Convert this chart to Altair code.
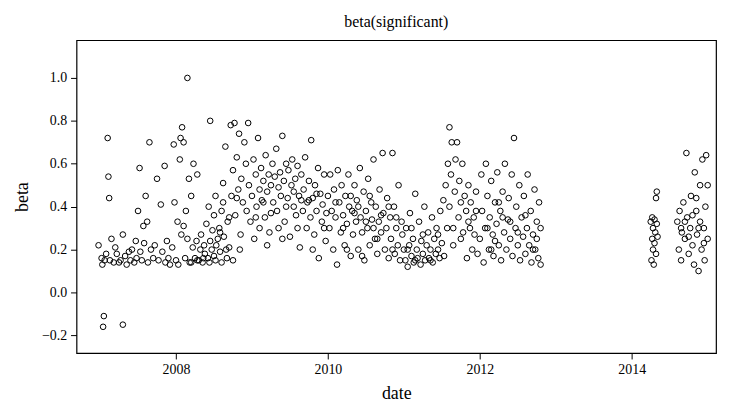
import altair as alt
import pandas as pd

# (decimal year, beta), grouped by period
p2007a = [(2006.98, 0.22), (2007.02, 0.16), (2007.03, 0.13), (2007.04, -0.16), (2007.05, -0.11),
          (2007.06, 0.15), (2007.08, 0.18), (2007.1, 0.72), (2007.11, 0.54), (2007.12, 0.44),
          (2007.13, 0.15), (2007.15, 0.25), (2007.18, 0.14), (2007.2, 0.21), (2007.22, 0.18),
          (2007.25, 0.14), (2007.27, 0.15), (2007.3, -0.15), (2007.3, 0.27), (2007.33, 0.17),
          (2007.35, 0.13), (2007.38, 0.19), (2007.4, 0.15), (2007.42, 0.2), (2007.45, 0.14),
          (2007.47, 0.24), (2007.48, 0.16), (2007.5, 0.38), (2007.52, 0.58), (2007.53, 0.19),
          (2007.55, 0.15), (2007.57, 0.31), (2007.58, 0.23), (2007.6, 0.45), (2007.62, 0.33),
          (2007.63, 0.14), (2007.65, 0.7), (2007.67, 0.2), (2007.7, 0.16), (2007.72, 0.22),
          (2007.75, 0.53), (2007.77, 0.15), (2007.8, 0.41), (2007.82, 0.19), (2007.85, 0.59),
          (2007.86, 0.14), (2007.88, 0.24), (2007.9, 0.16), (2007.92, 0.13), (2007.95, 0.21)]
p2008a = [(2007.97, 0.69), (2007.98, 0.42), (2008.0, 0.15), (2008.02, 0.33), (2008.03, 0.13),
          (2008.05, 0.62), (2008.06, 0.72), (2008.07, 0.27), (2008.08, 0.77), (2008.1, 0.7),
          (2008.1, 0.31), (2008.12, 0.16), (2008.13, 0.38), (2008.15, 1.0), (2008.15, 0.25),
          (2008.17, 0.53), (2008.18, 0.14), (2008.2, 0.45), (2008.22, 0.21), (2008.23, 0.6),
          (2008.25, 0.16), (2008.27, 0.24), (2008.28, 0.55), (2008.3, 0.15), (2008.32, 0.2),
          (2008.33, 0.27), (2008.35, 0.14), (2008.37, 0.22), (2008.38, 0.18), (2008.4, 0.32),
          (2008.42, 0.16), (2008.43, 0.4), (2008.45, 0.8), (2008.45, 0.24), (2008.47, 0.2),
          (2008.48, 0.29), (2008.5, 0.36), (2008.5, 0.17), (2008.52, 0.45), (2008.53, 0.22),
          (2008.55, 0.25), (2008.57, 0.3), (2008.58, 0.19), (2008.6, 0.38), (2008.62, 0.42),
          (2008.63, 0.26), (2008.65, 0.68), (2008.67, 0.16), (2008.68, 0.33), (2008.7, 0.21),
          (2008.72, 0.78), (2008.73, 0.45), (2008.75, 0.15), (2008.75, 0.57), (2008.77, 0.79),
          (2008.78, 0.36), (2008.8, 0.63), (2008.82, 0.48), (2008.83, 0.74), (2008.85, 0.27),
          (2008.86, 0.53), (2008.88, 0.42), (2008.9, 0.7), (2008.92, 0.6), (2008.93, 0.38),
          (2008.95, 0.79), (2008.96, 0.5), (2008.98, 0.33), (2008.2, 0.14), (2008.28, 0.15),
          (2008.36, 0.16), (2008.44, 0.14), (2008.52, 0.15), (2008.6, 0.14), (2008.66, 0.2),
          (2008.58, 0.28), (2008.7, 0.35), (2008.62, 0.51), (2008.8, 0.44), (2008.84, 0.2)]
p2009 = [(2009.0, 0.45), (2009.02, 0.62), (2009.03, 0.25), (2009.05, 0.55), (2009.06, 0.4),
         (2009.08, 0.72), (2009.1, 0.48), (2009.1, 0.3), (2009.12, 0.58), (2009.13, 0.43),
         (2009.15, 0.52), (2009.17, 0.35), (2009.18, 0.64), (2009.2, 0.47), (2009.22, 0.55),
         (2009.23, 0.28), (2009.25, 0.5), (2009.27, 0.6), (2009.28, 0.42), (2009.3, 0.54),
         (2009.32, 0.67), (2009.33, 0.38), (2009.35, 0.49), (2009.37, 0.56), (2009.38, 0.45),
         (2009.4, 0.73), (2009.42, 0.52), (2009.43, 0.33), (2009.45, 0.6), (2009.47, 0.44),
         (2009.48, 0.57), (2009.5, 0.26), (2009.52, 0.5), (2009.53, 0.62), (2009.55, 0.4),
         (2009.57, 0.53), (2009.58, 0.36), (2009.6, 0.59), (2009.62, 0.45), (2009.63, 0.21),
         (2009.65, 0.55), (2009.67, 0.38), (2009.68, 0.48), (2009.7, 0.63), (2009.72, 0.3),
         (2009.73, 0.42), (2009.75, 0.52), (2009.77, 0.35), (2009.78, 0.71), (2009.8, 0.44),
         (2009.82, 0.27), (2009.83, 0.5), (2009.85, 0.38), (2009.87, 0.58), (2009.88, 0.16),
         (2009.9, 0.46), (2009.92, 0.33), (2009.93, 0.41), (2009.95, 0.55), (2009.97, 0.24),
         (2009.98, 0.37), (2009.05, 0.35), (2009.15, 0.42), (2009.25, 0.37), (2009.35, 0.3),
         (2009.45, 0.4), (2009.55, 0.47), (2009.65, 0.43), (2009.75, 0.43), (2009.85, 0.46),
         (2009.2, 0.22), (2009.4, 0.25), (2009.6, 0.3), (2009.8, 0.2), (2009.95, 0.3)]
p2010 = [(2010.0, 0.45), (2010.02, 0.3), (2010.03, 0.55), (2010.05, 0.38), (2010.07, 0.2),
         (2010.08, 0.48), (2010.1, 0.35), (2010.12, 0.13), (2010.13, 0.57), (2010.15, 0.42),
         (2010.17, 0.28), (2010.18, 0.5), (2010.2, 0.36), (2010.22, 0.22), (2010.23, 0.45),
         (2010.25, 0.32), (2010.27, 0.55), (2010.28, 0.4), (2010.3, 0.17), (2010.32, 0.38),
         (2010.33, 0.27), (2010.35, 0.5), (2010.37, 0.33), (2010.38, 0.43), (2010.4, 0.2),
         (2010.42, 0.58), (2010.43, 0.35), (2010.45, 0.28), (2010.47, 0.47), (2010.48, 0.15),
         (2010.5, 0.38), (2010.52, 0.3), (2010.53, 0.53), (2010.55, 0.22), (2010.57, 0.42),
         (2010.58, 0.34), (2010.6, 0.62), (2010.62, 0.25), (2010.63, 0.4), (2010.65, 0.18),
         (2010.67, 0.33), (2010.68, 0.48), (2010.7, 0.28), (2010.72, 0.65), (2010.73, 0.37),
         (2010.75, 0.2), (2010.77, 0.3), (2010.78, 0.44), (2010.8, 0.16), (2010.82, 0.35),
         (2010.83, 0.25), (2010.85, 0.65), (2010.87, 0.4), (2010.88, 0.18), (2010.9, 0.3),
         (2010.92, 0.22), (2010.93, 0.5), (2010.95, 0.15), (2010.97, 0.33), (2010.98, 0.27),
         (2010.1, 0.42), (2010.2, 0.3), (2010.3, 0.45), (2010.4, 0.4), (2010.5, 0.33),
         (2010.6, 0.3), (2010.7, 0.36), (2010.8, 0.4), (2010.9, 0.35), (2010.25, 0.2),
         (2010.45, 0.17), (2010.65, 0.25), (2010.85, 0.2), (2010.55, 0.45), (2010.35, 0.37)]
p2011 = [(2011.0, 0.2), (2011.02, 0.15), (2011.03, 0.3), (2011.05, 0.12), (2011.07, 0.22),
         (2011.08, 0.37), (2011.1, 0.17), (2011.12, 0.25), (2011.13, 0.14), (2011.15, 0.46),
         (2011.17, 0.2), (2011.18, 0.16), (2011.2, 0.33), (2011.22, 0.13), (2011.23, 0.24),
         (2011.25, 0.18), (2011.27, 0.4), (2011.28, 0.15), (2011.3, 0.22), (2011.32, 0.28),
         (2011.33, 0.16), (2011.35, 0.2), (2011.37, 0.35), (2011.38, 0.14), (2011.4, 0.25),
         (2011.42, 0.18), (2011.43, 0.3), (2011.45, 0.2), (2011.47, 0.16), (2011.48, 0.38),
         (2011.5, 0.23), (2011.52, 0.43), (2011.53, 0.17), (2011.55, 0.5), (2011.57, 0.3),
         (2011.58, 0.6), (2011.6, 0.77), (2011.6, 0.4), (2011.62, 0.55), (2011.63, 0.7),
         (2011.65, 0.22), (2011.67, 0.47), (2011.68, 0.62), (2011.7, 0.7), (2011.72, 0.35),
         (2011.73, 0.52), (2011.75, 0.42), (2011.77, 0.6), (2011.78, 0.28), (2011.8, 0.45),
         (2011.82, 0.38), (2011.83, 0.16), (2011.85, 0.5), (2011.87, 0.3), (2011.88, 0.42),
         (2011.9, 0.2), (2011.92, 0.35), (2011.93, 0.27), (2011.95, 0.47), (2011.97, 0.18),
         (2011.05, 0.2), (2011.15, 0.15), (2011.25, 0.27), (2011.35, 0.15), (2011.45, 0.27),
         (2011.65, 0.3), (2011.75, 0.25), (2011.85, 0.33), (2011.95, 0.38), (2011.1, 0.3)]
p2012 = [(2012.0, 0.25), (2012.02, 0.55), (2012.03, 0.38), (2012.05, 0.14), (2012.07, 0.3),
         (2012.08, 0.6), (2012.1, 0.45), (2012.12, 0.2), (2012.13, 0.35), (2012.15, 0.52),
         (2012.17, 0.27), (2012.18, 0.17), (2012.2, 0.42), (2012.22, 0.32), (2012.23, 0.56),
         (2012.25, 0.22), (2012.27, 0.38), (2012.28, 0.15), (2012.3, 0.47), (2012.32, 0.28),
         (2012.33, 0.6), (2012.35, 0.2), (2012.37, 0.34), (2012.38, 0.44), (2012.4, 0.25),
         (2012.42, 0.55), (2012.43, 0.17), (2012.45, 0.72), (2012.47, 0.3), (2012.48, 0.4),
         (2012.5, 0.22), (2012.52, 0.5), (2012.53, 0.15), (2012.55, 0.35), (2012.57, 0.26),
         (2012.58, 0.45), (2012.6, 0.18), (2012.62, 0.3), (2012.63, 0.55), (2012.65, 0.22),
         (2012.67, 0.38), (2012.68, 0.14), (2012.7, 0.27), (2012.72, 0.48), (2012.73, 0.2),
         (2012.75, 0.33), (2012.77, 0.16), (2012.78, 0.42), (2012.8, 0.13), (2012.8, 0.3),
         (2012.1, 0.3), (2012.2, 0.24), (2012.3, 0.35), (2012.4, 0.33), (2012.5, 0.28),
         (2012.6, 0.36), (2012.7, 0.2), (2012.75, 0.25), (2012.25, 0.42), (2012.15, 0.2)]
p2014 = [(2014.25, 0.33), (2014.26, 0.15), (2014.27, 0.35), (2014.27, 0.25), (2014.28, 0.2),
         (2014.28, 0.3), (2014.29, 0.13), (2014.3, 0.34), (2014.3, 0.23), (2014.31, 0.28),
         (2014.32, 0.44), (2014.32, 0.18), (2014.33, 0.47), (2014.33, 0.32), (2014.34, 0.26)]
p2015 = [(2014.6, 0.33), (2014.62, 0.2), (2014.63, 0.38), (2014.65, 0.15), (2014.66, 0.28),
         (2014.68, 0.42), (2014.7, 0.25), (2014.72, 0.65), (2014.73, 0.35), (2014.75, 0.18),
         (2014.77, 0.3), (2014.78, 0.45), (2014.8, 0.22), (2014.82, 0.13), (2014.83, 0.56),
         (2014.85, 0.38), (2014.86, 0.27), (2014.88, 0.1), (2014.9, 0.5), (2014.9, 0.33),
         (2014.92, 0.2), (2014.93, 0.62), (2014.95, 0.3), (2014.96, 0.15), (2014.97, 0.4),
         (2014.98, 0.64), (2015.0, 0.25), (2015.0, 0.5), (2014.7, 0.33), (2014.8, 0.36),
         (2014.85, 0.44), (2014.75, 0.26), (2014.95, 0.23), (2014.65, 0.3), (2014.88, 0.3)]

points = p2007a + p2008a + p2009 + p2010 + p2011 + p2012 + p2014 + p2015
df = pd.DataFrame(points, columns=["date", "beta"])

FONT = "Liberation Serif"

chart = (
    alt.Chart(df)
    .mark_point(shape="circle", filled=False, color="black", size=32, strokeWidth=1, opacity=1)
    .encode(
        x=alt.X("date:Q", title="date",
                scale=alt.Scale(domain=[2006.69, 2015.11], nice=False, zero=False),
                axis=alt.Axis(values=[2008, 2010, 2012, 2014], format="d", grid=False,
                              domain=False, tickColor="black", tickSize=6, labelPadding=4,
                              titlePadding=8)),
        y=alt.Y("beta:Q", title="beta",
                scale=alt.Scale(domain=[-0.282, 1.176], nice=False, zero=False),
                axis=alt.Axis(values=[-0.2, 0.0, 0.2, 0.4, 0.6, 0.8, 1.0], format=".1f",
                              grid=False, domain=False, tickColor="black", tickSize=6,
                              labelPadding=4, titlePadding=10)),
    )
    .properties(width=644, height=315, title="beta(significant)")
    .configure_view(stroke="black", strokeWidth=1.2)
    .configure_axis(labelFont=FONT, titleFont=FONT, labelFontSize=14, titleFontSize=18,
                    labelColor="black", titleColor="black", titleFontWeight="normal")
    .configure_title(font=FONT, fontSize=16, fontWeight="normal", color="black", offset=10)
)

chart.save("out.html", embed_options={"renderer": "svg", "actions": False})
